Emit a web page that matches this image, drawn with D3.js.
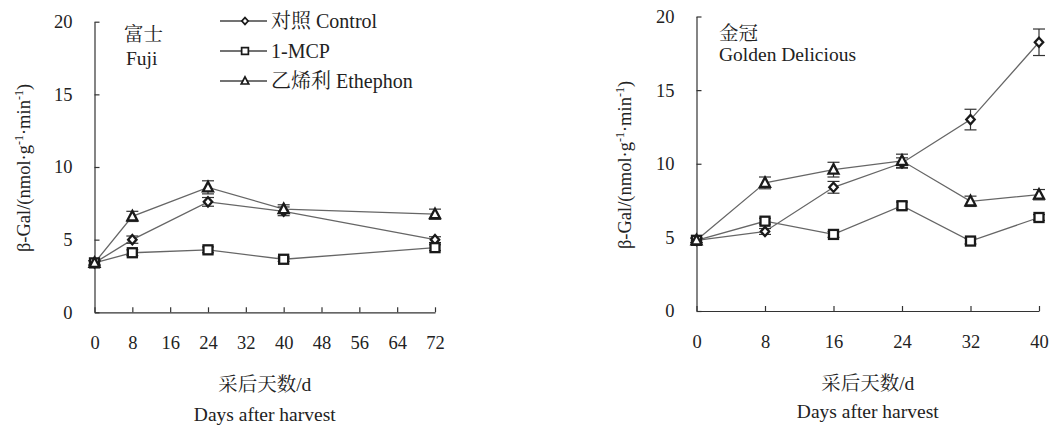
<!DOCTYPE html>
<html lang="zh">
<head>
<meta charset="UTF-8">
<title>beta-Gal</title>
<script src="https://d3js.org/d3.v7.min.js"></script>
<style>
body { margin: 0; background: #fff; }
svg { display: block; }
.axis path, .axis line { stroke: #333; stroke-width: 1.2; }
.series { fill: none; stroke: #666; stroke-width: 1.3; }
.err { stroke: #333; stroke-width: 1.2; }
.mark { fill: #fff; stroke: #1a1a1a; stroke-width: 2.3; }
</style>
</head>
<body>
<script>
// Fuji
const fujiDays = [0, 8, 24, 40, 72]
const fujiControl = [3.4, 5.0, 7.6, 6.95, 5.0]
const fujiControlErr = [0.15, 0.25, 0.3, 0.3, 0.2]
const fujiMcp = [3.4, 4.1, 4.3, 3.65, 4.45]
const fujiMcpErr = [0.15, 0.2, 0.2, 0.15, 0.2]
const fujiEth = [3.4, 6.6, 8.6, 7.1, 6.75]
const fujiEthErr = [0.15, 0.35, 0.45, 0.3, 0.35]
const fujiTicks = [0, 8, 16, 24, 32, 40, 48, 56, 64, 72]

// Golden Delicious
const goldDays = [0, 8, 16, 24, 32, 40]
const goldControl = [4.8, 5.4, 8.4, 10.05, 13.0, 18.25]
const goldControlErr = [0.15, 0.2, 0.4, 0.35, 0.7, 0.9]
const goldMcp = [4.8, 6.1, 5.2, 7.15, 4.75, 6.35]
const goldMcpErr = [0.15, 0.2, 0.2, 0.25, 0.2, 0.2]
const goldEth = [4.8, 8.7, 9.6, 10.2, 7.45, 7.9]
const goldEthErr = [0.15, 0.4, 0.5, 0.45, 0.35, 0.35]
const goldTicks = [0, 8, 16, 24, 32, 40]

const yTicks = [0, 5, 10, 15, 20]
const legendNames = [["对照", " Control"], ["", "1-MCP"], ["乙烯利", " Ethephon"]]

const SERIF = '"Liberation Serif", "Times New Roman", serif'
const CJK = '"Noto Serif CJK SC", "Noto Sans CJK SC", serif'

const svg = d3.select("body").append("svg").attr("width", 1052).attr("height", 429)

const markers = [
    g => g.append("path").attr("d", "M0,-4.6L4.2,0L0,4.6L-4.2,0Z"),
    g => g.append("rect").attr("x", -4.5).attr("y", -4.5).attr("width", 9).attr("height", 9),
    g => g.append("path").attr("d", "M0,-5.5L5,4L-5,4Z")
]

function serifText(sel, size) {
    return sel.style("font-family", SERIF).style("font-size", size + "px").style("fill", "#222")
}

function panel(opt) {
    const x = d3.scaleLinear().domain([0, opt.xMax]).range([opt.left, opt.right])
    const y = d3.scaleLinear().domain([0, 20]).range([opt.bottom, opt.top])
    const g = svg.append("g")

    const xa = g.append("g").attr("class", "axis")
        .attr("transform", `translate(0,${opt.bottom})`)
        .call(d3.axisBottom(x).tickValues(opt.ticks).tickSizeInner(-5).tickSizeOuter(0).tickPadding(24))
    const ya = g.append("g").attr("class", "axis")
        .attr("transform", `translate(${opt.left},0)`)
        .call(d3.axisLeft(y).tickValues(yTicks).tickSizeInner(-5).tickSizeOuter(0).tickPadding(22))
    serifText(xa.selectAll("text"), 18.5)
    serifText(ya.selectAll("text"), 18.5)

    const series = [
        [opt.control, opt.controlErr],
        [opt.mcp, opt.mcpErr],
        [opt.eth, opt.ethErr]
    ]
    const line = d3.line().x((d, i) => x(opt.days[i])).y(d => y(d))
    series.forEach(([vals]) => {
        g.append("path").attr("class", "series").attr("d", line(vals))
    })
    series.forEach(([vals, errs]) => {
        vals.forEach((v, i) => {
            const cx = x(opt.days[i])
            const hi = y(v + errs[i]), lo = y(v - errs[i])
            g.append("line").attr("class", "err").attr("x1", cx).attr("x2", cx).attr("y1", hi).attr("y2", lo)
            g.append("line").attr("class", "err").attr("x1", cx - 6).attr("x2", cx + 6).attr("y1", hi).attr("y2", hi)
            g.append("line").attr("class", "err").attr("x1", cx - 6).attr("x2", cx + 6).attr("y1", lo).attr("y2", lo)
        })
    })
    series.forEach(([vals], k) => {
        vals.forEach((v, i) => {
            const m = g.append("g").attr("class", "mark")
                .attr("transform", `translate(${x(opt.days[i])},${y(v)})`)
            markers[k](m)
        })
    })

    // y label
    const yl = serifText(g.append("text"), 18.5)
        .attr("transform", `translate(${opt.yLabelX},${opt.yLabelY}) rotate(-90)`)
        .attr("text-anchor", "middle")
    yl.append("tspan").text("β-Gal/(nmol·g")
    yl.append("tspan").text("-1").attr("dy", -7).style("font-size", "12px")
    yl.append("tspan").text("·min").attr("dy", 7)
    yl.append("tspan").text("-1").attr("dy", -7).style("font-size", "12px")
    yl.append("tspan").text(")").attr("dy", 7)

    // x labels
    const cx = (opt.left + opt.right) / 2
    const xl = serifText(g.append("text"), 19.5).attr("x", cx).attr("y", opt.bottom + 79)
        .attr("text-anchor", "middle")
    xl.append("tspan").style("font-family", CJK).style("font-size", "19.5px").text("采后天数")
    xl.append("tspan").text("/d")
    serifText(g.append("text"), 19.5).attr("x", cx).attr("y", opt.bottom + opt.enLabelDy)
        .attr("text-anchor", "middle").text("Days after harvest")

    // cultivar name
    serifText(g.append("text"), 19.5).style("font-family", CJK)
        .attr("x", opt.nameX).attr("y", opt.nameY).text(opt.nameCn)
    serifText(g.append("text"), 19.5).attr("x", opt.nameX + opt.enDx).attr("y", opt.nameY + opt.enDy)
        .text(opt.nameEn)
}

panel({
    left: 94.5, right: 435, top: 21.7, bottom: 312.3, xMax: 72, ticks: fujiTicks,
    days: fujiDays, control: fujiControl, controlErr: fujiControlErr,
    mcp: fujiMcp, mcpErr: fujiMcpErr, eth: fujiEth, ethErr: fujiEthErr,
    yLabelX: 30, yLabelY: 168, nameX: 124, nameY: 41, nameCn: "富士", nameEn: "Fuji", enDx: 2, enDy: 24,
    enLabelDy: 109
})

panel({
    left: 696.5, right: 1039, top: 16.5, bottom: 311, xMax: 40, ticks: goldTicks,
    days: goldDays, control: goldControl, controlErr: goldControlErr,
    mcp: goldMcp, mcpErr: goldMcpErr, eth: goldEth, ethErr: goldEthErr,
    yLabelX: 631, yLabelY: 165, nameX: 719, nameY: 40, nameCn: "金冠", nameEn: "Golden Delicious", enDx: 0, enDy: 21,
    enLabelDy: 107
})

// legend
const legend = svg.append("g").attr("transform", "translate(220,21)")
legendNames.forEach((nm, k) => {
    const row = legend.append("g").attr("transform", `translate(0,${k * 30})`)
    row.append("line").attr("x1", 0).attr("x2", 47).attr("stroke", "#444").attr("stroke-width", 1.3)
    const m = row.append("g").attr("class", "mark").attr("transform", "translate(25,0) scale(0.75)")
    markers[k](m)
    const t = serifText(row.append("text"), 20).attr("x", 51).attr("y", 7)
    if (nm[0]) t.append("tspan").style("font-family", CJK).style("font-size", "20px").text(nm[0])
    t.append("tspan").text(nm[1])
})
</script>
</body>
</html>
